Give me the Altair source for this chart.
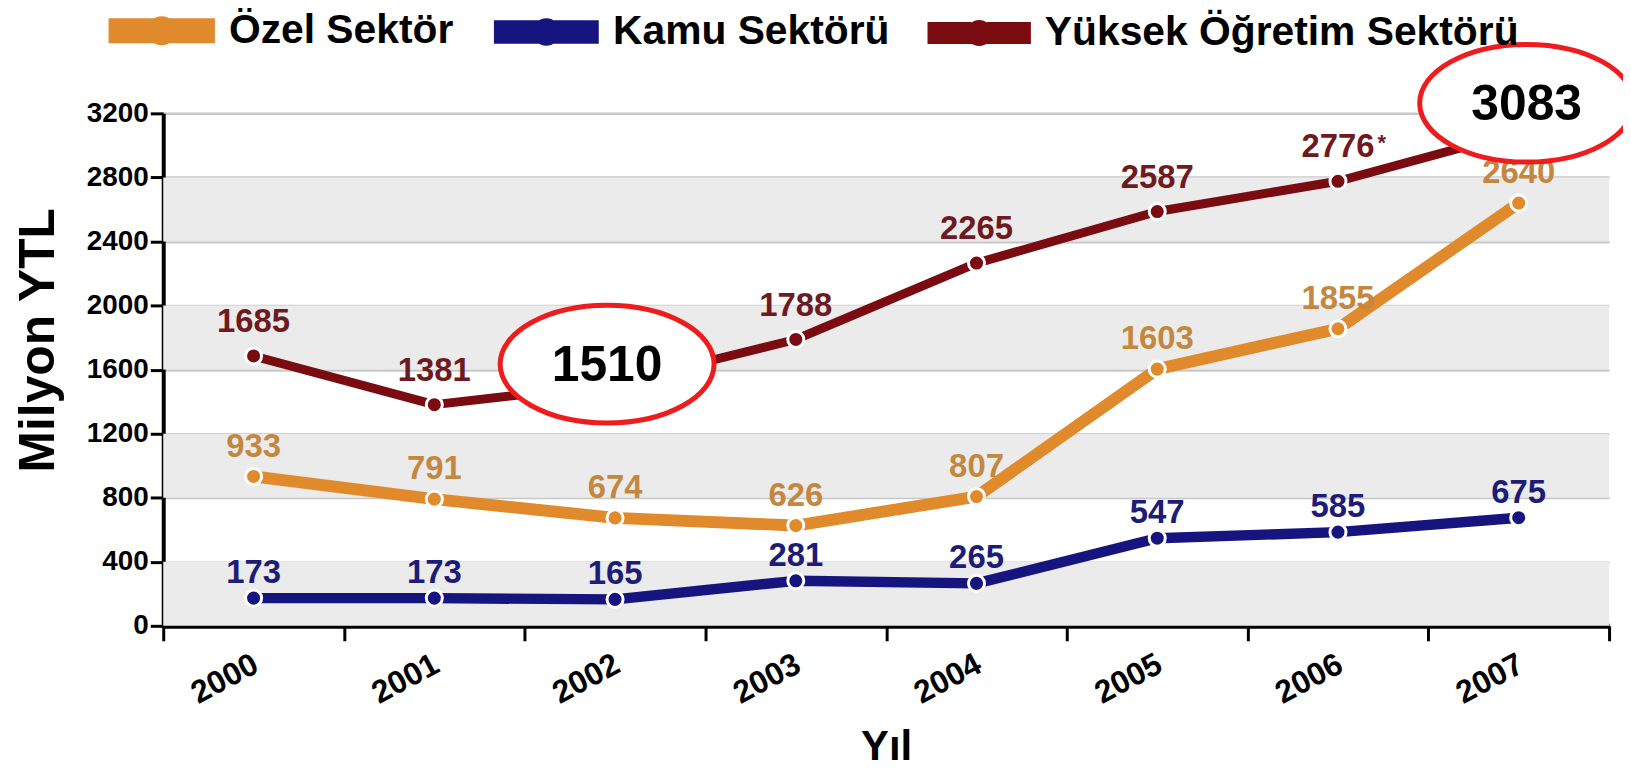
import altair as alt
import pandas as pd

# ---------------- data ----------------
years = ["2000", "2001", "2002", "2003", "2004", "2005", "2006", "2007"]
series_names = ["Özel Sektör", "Kamu Sektörü", "Yüksek Öğretim Sektörü"]
ozel = [933, 791, 674, 626, 807, 1603, 1855, 2640]
kamu = [173, 173, 165, 281, 265, 547, 585, 675]
yuksek = [1685, 1381, 1510, 1788, 2265, 2587, 2776, 3083]
y_ticks = [0, 400, 800, 1200, 1600, 2000, 2400, 2800, 3200]
highlight_years = ["2002", "2007"]
note_year = "2006"
note_text = "*"

# ---------------- styles ----------------
FONT = "Liberation Sans"
line_colors = ["#e08a2b", "#16157f", "#7a0b10"]
label_colors = ["#c4873f", "#1d1c78", "#6e1a20"]
line_widths = [12, 9, 10]
label_dy = [-20, -15, -24]
W, H = 1453, 515

values = [ozel, kamu, yuksek]
rows = []
for name, vals in zip(series_names, values):
    for yr, v in zip(years, vals):
        rows.append({"year": yr, "series": name, "value": v})
df = pd.DataFrame(rows)

bands = pd.DataFrame({"lo": y_ticks[0:-1:2], "hi": y_ticks[1::2]})

x_enc = alt.X(
    "year:O",
    scale=alt.Scale(type="band", domain=years, paddingInner=0, paddingOuter=0),
    axis=alt.Axis(
        tickBand="extent", tickSize=15, tickWidth=3, tickColor="black",
        domainWidth=5, domainColor="black", grid=False,
        labelAngle=332, labelAlign="right", labelBaseline="middle",
        labelFont=FONT, labelFontSize=32, labelFontWeight="bold", labelColor="black",
        labelPadding=21, labelOffset=2,
        title="Yıl", titleFont=FONT, titleFontSize=42, titleFontWeight="bold",
        titleColor="black", titleY=134, titleBaseline="alphabetic",
    ),
)
y_scale = alt.Scale(domain=[0, 3200], nice=False)
y_axis = alt.Axis(
    values=y_ticks, format="d", tickSize=13, tickWidth=3, tickColor="black",
    domainWidth=4, domainColor="black",
    grid=True, gridColor="#c8c8c8", gridWidth=2.5,
    labelFont=FONT, labelFontSize=28, labelFontWeight="bold", labelColor="black",
    labelPadding=2,
    title="Milyon YTL", titleFont=FONT, titleFontSize=50, titleFontWeight="bold",
    titleColor="black", titleAngle=270, titleX=-125, titleY=H / 2 - 30,
    titleAlign="center", titleBaseline="middle",
)
y_enc = alt.Y("value:Q", scale=y_scale, axis=y_axis)

color_scale = alt.Scale(domain=series_names, range=line_colors)
legend_path = ("M-1,-0.14L-0.26,-0.14L-0.26,0.14L-1,0.14Z "
               "M0.26,-0.14L1,-0.14L1,0.14L0.26,0.14Z "
               "M-0.18,0A0.18,0.18 0 1,0 0.18,0A0.18,0.18 0 1,0 -0.18,0Z")
legend = alt.Legend(
    title=None, orient="none", direction="horizontal",
    legendX=-55, legendY=-137,
    symbolType=legend_path, symbolSize=9000, symbolStrokeWidth=0,
    symbolOpacity=1,
    labelFont=FONT, labelFontSize=41, labelFontWeight="bold",
    labelColor="black", labelOffset=14, columnPadding=24,
    labelLimit=800,
)

band_layer = alt.Chart(bands).mark_rect(color="#ebebeb").encode(
    y=alt.Y("lo:Q", scale=y_scale, axis=y_axis), y2="hi:Q",
    x=alt.value(0), x2=alt.value(W),
)

line_layer = alt.Chart(df).mark_line(strokeCap="round", strokeJoin="round").encode(
    x=x_enc, y=y_enc,
    color=alt.Color("series:N", scale=color_scale, legend=legend),
    strokeWidth=alt.StrokeWidth("series:N",
                                scale=alt.Scale(domain=series_names, range=line_widths),
                                legend=None),
)

point_layer = alt.Chart(df).mark_circle(size=260, opacity=1, stroke="white", strokeWidth=3).encode(
    x=x_enc, y=y_enc,
    color=alt.Color("series:N", scale=color_scale, legend=legend),
)

text_layers = []
for name, col, dy in zip(series_names, label_colors, label_dy):
    text_layers.append(
        alt.Chart(df[df["series"] == name]).mark_text(
            font=FONT, fontSize=33, fontWeight="bold", color=col, dy=dy,
            baseline="alphabetic", align="center",
        ).encode(x=x_enc, y=y_enc, text=alt.Text("value:Q", format="d"))
    )

note_df = df[(df["series"] == series_names[2]) & (df["year"] == note_year)].copy()
note_df["note"] = note_text
note_layer = alt.Chart(note_df).mark_text(
    font=FONT, fontSize=22, fontWeight="bold", color="#6e1a20", dx=44, dy=-38,
).encode(x=x_enc, y=y_enc, text="note:N")

ell_path = "M-1,0A1,0.55 0 1,0 1,0A1,0.55 0 1,0 -1,0Z"
ann_layers = []
for yr, (xo, yo) in zip(highlight_years, [(-8, -20), (8, -29)]):
    ann = df[(df["series"] == series_names[2]) & (df["year"] == yr)]
    ann_layers.append(
        alt.Chart(ann).mark_point(
            shape=ell_path, size=215 * 215, filled=True, fill="white", opacity=1,
            stroke="#ee1c1c", strokeWidth=5, xOffset=xo, yOffset=yo,
        ).encode(x=x_enc, y=y_enc)
    )
    ann_layers.append(
        alt.Chart(ann).mark_text(
            font=FONT, fontSize=50, fontWeight="bold", color="black",
            dx=xo, dy=yo + 2, baseline="middle", align="center",
        ).encode(x=x_enc, y=y_enc, text=alt.Text("value:Q", format="d"))
    )

chart = alt.layer(
    band_layer, line_layer, point_layer, *text_layers, note_layer, *ann_layers
).properties(
    width=W, height=H,
    padding={"left": 156, "top": 104, "right": 14, "bottom": 141},
    autosize=alt.AutoSizeParams(type="none"),
    background="white",
).configure_view(stroke=None)

chart.save("out.html", embed_options={"renderer": "svg", "actions": False})
